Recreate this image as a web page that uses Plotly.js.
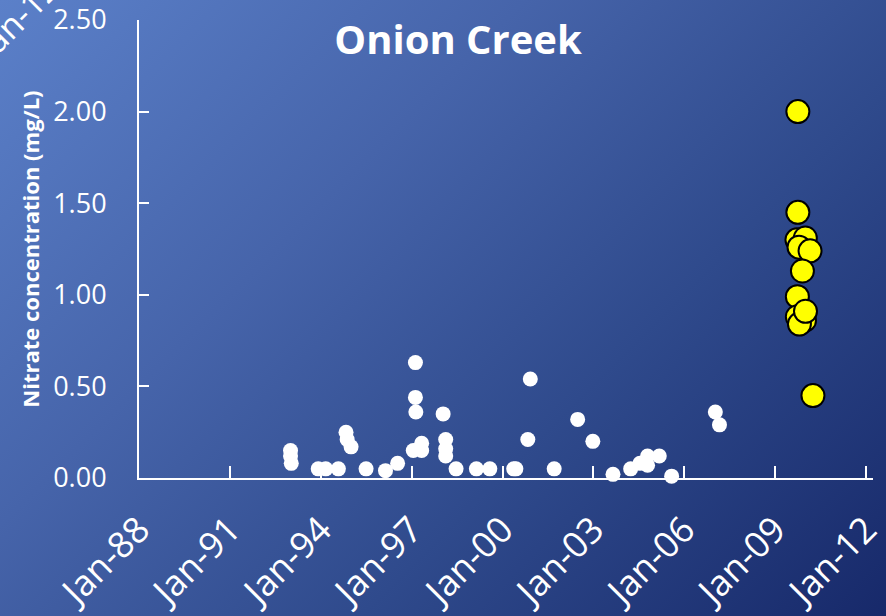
<!DOCTYPE html>
<html>
<head>
<meta charset="utf-8">
<script src="https://cdn.plot.ly/plotly-3.0.1.min.js"></script>
<style>
html,body{margin:0;padding:0;}
#wrap{width:886px;height:616px;background:linear-gradient(135deg,#5b80c9 0%,#4664aa 35%,#2f4a8c 65%,#17296a 100%);}
#chart{width:886px;height:616px;}
</style>
</head>
<body>
<div id="wrap"><div id="chart"></div></div>
<script>
// Earlier samples (white)
const earlyDates = [
  "1993-01-01","1993-01-01","1993-01-10","1993-12-01","1994-03-01","1994-08-01",
  "1994-11-01","1994-11-15","1995-01-01","1995-07-01","1996-02-20","1996-07-15",
  "1997-02-15","1997-02-15","1997-02-20","1997-01-20","1997-05-01","1997-05-01",
  "1998-01-15","1998-02-15","1998-02-15","1998-02-15","1998-06-20","1999-02-20",
  "1999-08-01","2000-05-15","2000-06-10","2000-12-01","2000-11-01","2001-09-15",
  "2002-06-25","2002-12-25","2003-08-25","2004-03-25","2004-07-15","2004-10-15",
  "2004-10-15","2005-03-05","2005-08-01","2007-01-10","2007-03-01"
];
const earlyValues = [
  0.15,0.12,0.08,0.05,0.05,0.05,
  0.25,0.21,0.17,0.05,0.04,0.08,
  0.63,0.44,0.36,0.15,0.19,0.15,
  0.35,0.21,0.16,0.12,0.05,0.05,
  0.05,0.05,0.05,0.54,0.21,0.05,
  0.32,0.20,0.02,0.05,0.08,0.12,
  0.07,0.12,0.01,0.36,0.29
];
// Recent samples (yellow)
const recentDates = [
  "2009-10-01","2009-10-01","2009-09-20","2009-12-30","2009-10-15","2010-02-25",
  "2009-11-25","2009-09-25","2009-09-25","2009-12-20","2009-10-20","2010-01-01",
  "2010-04-01"
];
const recentValues = [
  2.00,1.45,1.30,1.31,1.26,1.24,
  1.13,0.99,0.88,0.86,0.84,0.91,
  0.45
];
const xTickVals = ["1988-01-01","1991-01-01","1994-01-01","1997-01-01","2000-01-01","2003-01-01","2006-01-01","2009-01-01","2012-01-01"];
const xTickText = ["Jan-88","Jan-91","Jan-94","Jan-97","Jan-00","Jan-03","Jan-06","Jan-09","Jan-12"];
const yTickVals = [0,0.5,1.0,1.5,2.0,2.5];
const yTickText = ["0.00","0.50","1.00","1.50","2.00","2.50"];

const FONT = "'Open Sans', sans-serif";
const traces = [
  {type:"scatter",mode:"markers",x:earlyDates,y:earlyValues,cliponaxis:false,
   marker:{color:"#ffffff",size:15,line:{width:0}},hoverinfo:"x+y"},
  {type:"scatter",mode:"markers",x:recentDates,y:recentValues,cliponaxis:false,
   marker:{color:"#ffff00",size:23,line:{color:"#000000",width:2}},hoverinfo:"x+y"}
];
const layout = {
  width:886,height:616,
  paper_bgcolor:"rgba(0,0,0,0)",plot_bgcolor:"rgba(0,0,0,0)",
  margin:{l:139,r:13,t:20,b:138},
  showlegend:false,
  font:{family:FONT,color:"#ffffff"},
  title:{text:"<b>Onion Creek</b>",font:{family:FONT,size:40,color:"#ffffff"},
         x:0.517,xref:"container",y:0.935,yref:"container",xanchor:"center",yanchor:"middle"},
  xaxis:{type:"date",range:["1988-01-01","2012-03-25"],tickmode:"array",
         tickvals:xTickVals,ticktext:xTickText,tickangle:-45,
         tickfont:{family:FONT,size:36,color:"#ffffff"},
         showline:true,linecolor:"#ffffff",linewidth:2,
         ticks:"inside",ticklen:12,tickwidth:2,tickcolor:"#ffffff",
         showgrid:false,zeroline:false,ticklabelstandoff:14,ticklabeloverflow:"allow"},
  yaxis:{range:[0,2.5],tickmode:"array",tickvals:yTickVals,ticktext:yTickText,
         tickfont:{family:FONT,size:27,color:"#ffffff"},
         showline:true,linecolor:"#ffffff",linewidth:2,
         ticks:"inside",ticklen:10,tickwidth:2,tickcolor:"#ffffff",
         showgrid:false,zeroline:false,ticklabelstandoff:25,ticklabeloverflow:"allow"},
  annotations:[
    {text:"<b>Nitrate concentration (mg/L)</b>",xref:"paper",yref:"paper",
     x:-0.149,y:0.5,textangle:-90,showarrow:false,xanchor:"center",yanchor:"middle",
     font:{family:FONT,size:22,color:"#ffffff"}},
    {text:"Jan-12",xref:"paper",yref:"paper",x:-0.167,y:1.005,textangle:-45,
     showarrow:false,xanchor:"center",yanchor:"middle",
     font:{family:FONT,size:34,color:"#ffffff"}}
  ]
};
Plotly.newPlot("chart",traces,layout,{displayModeBar:false,staticPlot:true});
</script>
</body>
</html>
